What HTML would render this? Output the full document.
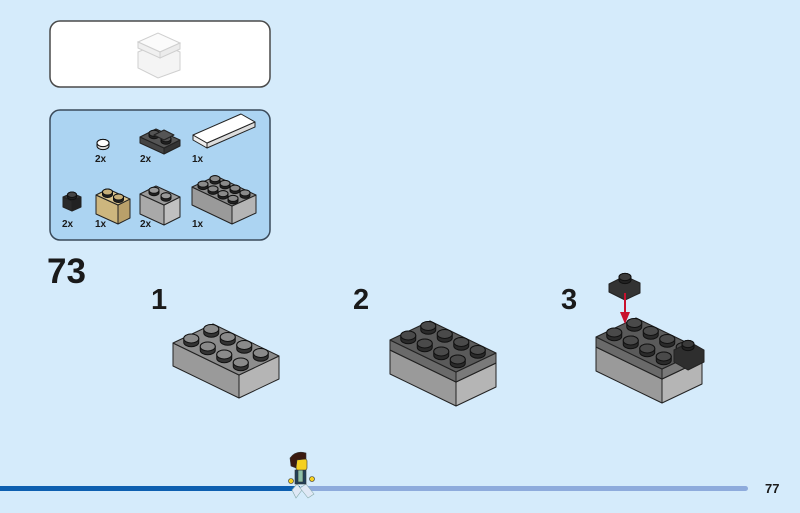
<!DOCTYPE html>
<html><head><meta charset="utf-8">
<style>
html,body{margin:0;padding:0;}
body{width:800px;height:513px;background:#d5ebfb;position:relative;overflow:hidden;font-family:"Liberation Sans",sans-serif;}
.t{position:absolute;color:#1a1a1a;font-weight:bold;}
</style></head>
<body>
<svg id="s" width="800" height="513" style="position:absolute;left:0;top:0">
<rect x="50" y="21" width="220" height="66" rx="10" fill="#fff" stroke="#4a4a4a" stroke-width="1.5"/>
<rect x="50" y="110" width="220" height="130" rx="10" fill="#acd4f2" stroke="#3a4a5a" stroke-width="1.5"/>
<rect x="0" y="486" width="300" height="5" fill="#0d5fb0"/>
<rect x="300" y="486" width="448" height="5" rx="2.5" fill="#8eabdc"/>
<g id="g"></g>
<!-- minifig -->
<g stroke="#333" stroke-width="0.6">
<path d="M292 490 L297 484 L302 490 L296 498 Z" fill="#dfe8f5" stroke="#8aa"/>
<path d="M300 488 L306 484 L314 494 L308 498 Z" fill="#dfe8f5" stroke="#8aa"/>
<rect x="295" y="470" width="11" height="14" fill="#22405a"/>
<rect x="298" y="470" width="5" height="12" fill="#8fc0a8"/>
<circle cx="291" cy="481" r="2.5" fill="#f5d020"/>
<circle cx="312" cy="479" r="2.5" fill="#f5d020"/>
<rect x="296" y="459" width="11" height="11" rx="2" fill="#f5d020"/>
<path d="M290 458 Q296 450 306 453 L306 459 L297 460 L296 468 L291 466 Z" fill="#3a1a10"/>
</g>
<!-- top preview white brick -->
<g stroke="#cfcfcf" stroke-width="1">
<polygon points="138,52 160,43 180,52 180,70 158,78 138,68" fill="#f4f4f4"/>
<polygon points="138,42 158,33 180,43 160,52" fill="#fbfbfb"/>
<polygon points="138,42 160,52 160,58 138,48" fill="#f0f0f0"/>
<polygon points="160,52 180,43 180,49 160,58" fill="#ececec"/>
</g>
</svg>
<div class="t" style="left:47px;top:252px;font-size:35px;">73</div>
<div class="t" style="left:151px;top:284px;font-size:29px;">1</div>
<div class="t" style="left:353px;top:284px;font-size:29px;">2</div>
<div class="t" style="left:561px;top:284px;font-size:29px;">3</div>
<div class="t" style="left:765px;top:481px;font-size:13px;">77</div>
<div class="t" style="left:95px;top:154px;font-size:10px;">2x</div>
<div class="t" style="left:140px;top:154px;font-size:10px;">2x</div>
<div class="t" style="left:192px;top:154px;font-size:10px;">1x</div>
<div class="t" style="left:62px;top:219px;font-size:10px;">2x</div>
<div class="t" style="left:95px;top:219px;font-size:10px;">1x</div>
<div class="t" style="left:140px;top:219px;font-size:10px;">2x</div>
<div class="t" style="left:192px;top:219px;font-size:10px;">1x</div>
<script>
const g=document.getElementById('g');let h='';
function P(pts,f){h+=`<polygon points="${pts.map(p=>p[0].toFixed(1)+','+p[1].toFixed(1)).join(' ')}" fill="${f}" stroke="#222" stroke-width="1" stroke-linejoin="round"/>`;}
function ad(a,b,k=1){return [a[0]+b[0]*k,a[1]+b[1]*k];}
function stud(c,r,col,top){const rx=r,ry=r*0.6,hh=r*0.5;
h+=`<path d="M${c[0]-rx} ${c[1]} L${c[0]-rx} ${c[1]-hh} A${rx} ${ry} 0 0 1 ${c[0]+rx} ${c[1]-hh} L${c[0]+rx} ${c[1]} A${rx} ${ry} 0 0 1 ${c[0]-rx} ${c[1]} Z" fill="${col}" stroke="#111" stroke-width="1"/>`;
h+=`<ellipse cx="${c[0]}" cy="${c[1]-hh}" rx="${rx}" ry="${ry}" fill="${top}" stroke="#111" stroke-width="1"/>`;}
function brick(A,u,v,H,nu,nv,ct,cl,cr,sc,stc,r){
 const B=ad(A,v),D=ad(A,u),C=ad(D,v),dn=[0,H];
 P([A,D,ad(D,dn),ad(A,dn)],cl);P([D,C,ad(C,dn),ad(D,dn)],cr);P([A,B,C,D],ct);
 if(nu){let list=[];for(let j=nv-1;j>=0;j--)for(let i=0;i<nu;i++)list.push([i,j]);
 list.sort((p,q)=>{const a=ad(ad(A,u,(p[0]+.5)/nu),v,(p[1]+.5)/nv),b=ad(ad(A,u,(q[0]+.5)/nu),v,(q[1]+.5)/nv);return a[1]-b[1];});
 for(const [i,j] of list){stud(ad(ad(A,u,(i+.5)/nu),v,(j+.5)/nv),r,sc,stc);}}}
const u=[66,32],v=[40,-19];
brick([173,343],u,v,23,4,2,'#8c8c8c','#9a9a9a','#b5b5b5','#333','#8a8a8a',7.5);
// step 2
brick([390,350],u,v,24,0,2,'#888','#9a9a9a','#b5b5b5');
brick([390,340],u,v,10,4,2,'#5a5a5a','#6a6a6a','#7a7a7a','#2a2a2a','#4a4a4a',7.5);
// step 3
brick([596,347],u,v,24,0,2,'#888','#9a9a9a','#b5b5b5');
brick([596,337],u,v,10,4,2,'#5a5a5a','#6a6a6a','#7a7a7a','#2a2a2a','#4a4a4a',7.5);
P([[674,350],[690,342],[704,350],[704,362],[688,370],[674,362]],'#2e2e2e');
stud([688,347],6,'#222','#3a3a3a');
// floating piece & arrow
P([[609,284],[625,276],[640,283],[640,293],[625,300],[609,292]],'#333');
stud([625,280],6,'#222','#3c3c3c');
h+=`<line x1="625" y1="293" x2="625" y2="316" stroke="#c8102e" stroke-width="2"/><polygon points="620,312 630,312 625,324" fill="#c8102e"/>`;
// parts
stud([103,146],6,'#ddd','#fff');
brick([140,137],[24,11],[16,-8],6,2,1,'#555','#444','#333','#222','#555',5);
P([[154,135],[164,130],[174,135],[164,140]],'#555');
brick([193,135],[14,8],[48,-21],5,0,1,'#fff','#eee','#ddd');
brick([63,197],[9,4],[9,-4],10,1,1,'#333','#2a2a2a','#222','#222','#444',4.5);
brick([96,195],[22,10],[12,-6],19,2,1,'#d9c48e','#cdb67e','#b9a06a','#222','#c8b07a',5);
brick([140,194],[24,11],[16,-8],20,2,1,'#9a9a9a','#a9a9a9','#c0c0c0','#222','#999',5);
brick([192,187],[40,19],[24,-11],18,4,2,'#8c8c8c','#9a9a9a','#b5b5b5','#222','#8a8a8a',5);
g.innerHTML=h;
</script>
</body></html>
